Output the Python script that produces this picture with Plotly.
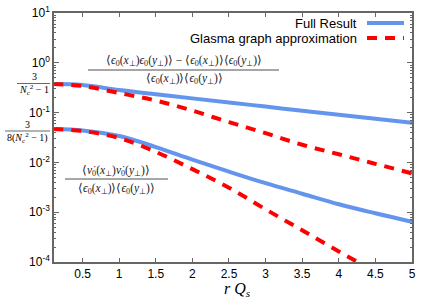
import plotly.graph_objects as go

# ---- data ----
r_qs = [0.1, 0.5, 1.0, 1.5, 2.0, 2.5, 3.0, 3.5, 4.0, 4.5, 5.0]
full_eps = [0.375, 0.358, 0.284, 0.2335, 0.193, 0.1596, 0.132, 0.1086, 0.0902, 0.0752, 0.0628]
glasma_eps = [0.375, 0.342, 0.247, 0.1744, 0.1096, 0.0643, 0.0386, 0.0226, 0.01455, 0.00936, 0.00602]
full_nu = [0.0469, 0.0438, 0.0339, 0.02034, 0.01138, 0.00652, 0.00382, 0.00235, 0.001443, 0.00095, 0.00064]
glasma_nu = [0.0469, 0.0427, 0.0309, 0.01627, 0.00733, 0.0031, 0.001144, 0.000432, 0.000163, 6.28e-5, 2.35e-5]

y_tickvals = [10, 1, 0.1, 0.01, 0.001, 0.0001]
y_ticktext = ["10<sup>1</sup>", "10<sup>0</sup>", "10<sup>-1</sup>", "10<sup>-2</sup>", "10<sup>-3</sup>", "10<sup>-4</sup>"]
x_tickvals = [0.5, 1, 1.5, 2, 2.5, 3, 3.5, 4, 4.5, 5]
x_ticktext = ["0.5", "1", "1.5", "2", "2.5", "3", "3.5", "4", "4.5", "5"]

BLUE = "#6495ED"
RED = "#FF0000"
W, H = 424, 303
L, R, T, B = 54, 12, 13, 41
PW, PH = W - L - R, H - T - B


def px(x):
    return (x - L) / PW


def py(y):
    return (H - B - y) / PH


fig = go.Figure()
for ys, col, dash in [(full_eps, BLUE, "solid"), (glasma_eps, RED, "10px,8px"),
                      (full_nu, BLUE, "solid"), (glasma_nu, RED, "10px,8px")]:
    fig.add_trace(go.Scatter(x=r_qs, y=ys, mode="lines", showlegend=False, hoverinfo="skip",
                             line=dict(color=col, width=4, dash=dash, shape="spline")))

minor_vals = [m * 10.0 ** k for k in range(-4, 1) for m in range(2, 10)]

axis_common = dict(showline=True, linecolor="#666", linewidth=1.5, mirror="allticks",
                   ticks="inside", tickcolor="#666", showgrid=False, zeroline=False,
                   automargin=False,
                   tickfont=dict(family="Liberation Sans", size=12, color="black"))
fig.update_xaxes(range=[0.11, 5], tickmode="array", tickvals=x_tickvals, ticktext=x_ticktext,
                 ticklen=4, **axis_common)
fig.update_yaxes(type="log", range=[-4, 1], tickmode="array", tickvals=y_tickvals,
                 ticktext=y_ticktext, ticklen=5,
                 minor=dict(tickvals=minor_vals, ticks="inside", ticklen=2, tickcolor="#666"),
                 **axis_common)

ann = []
shapes = []
SERIF = "Liberation Serif"
GRAY = "#222"


def text(x, y, s, size=10, fam=SERIF, col=GRAY, xanchor="center"):
    ann.append(dict(x=px(x), y=py(y), xref="paper", yref="paper", text=s, showarrow=False,
                    xanchor=xanchor, yanchor="middle", font=dict(family=fam, size=size, color=col)))


def hline(x0, x1, y, col=GRAY, width=0.8, dash="solid"):
    shapes.append(dict(type="line", xref="paper", yref="paper", x0=px(x0), x1=px(x1),
                       y0=py(y), y1=py(y), line=dict(color=col, width=width, dash=dash)))


eps = "<i>ϵ</i><sub>0</sub>"
xp = "(<i>x</i><sub>⊥</sub>)"
yp = "(<i>y</i><sub>⊥</sub>)"
nud = "<i>ν̇</i><sub>0</sub>"

# upper formula
text(184, 61, f"⟨{eps}{xp}{eps}{yp}⟩ − ⟨{eps}{xp}⟩⟨{eps}{yp}⟩", size=11.5)
hline(88, 279, 70)
text(184, 79, f"⟨{eps}{xp}⟩⟨{eps}{yp}⟩", size=11.5)

# lower formula
text(116, 171, f"⟨{nud}{xp}{nud}{yp}⟩", size=11.5)
hline(65, 168, 179)
text(116, 189, f"⟨{eps}{xp}⟩⟨{eps}{yp}⟩", size=11.5)

# custom y labels
text(34, 76, "3", size=10, col="black")
hline(17, 50, 83.5, col="black", width=0.6)
text(34, 90, "<i>N</i><sub>c</sub><sup>2</sup> − 1", size=10, col="black")
text(28, 124, "3", size=10, col="black")
hline(5, 50, 131, col="black", width=0.6)
text(28, 138, "8(<i>N</i><sub>c</sub><sup>2</sup> − 1)", size=10, col="black")

# legend (manual)
text(359, 23, "Full Result", size=13, fam="Liberation Sans", col="black", xanchor="right")
text(359, 38, "Glasma graph approximation", size=13, fam="Liberation Sans", col="black", xanchor="right")
hline(367, 404, 23, col=BLUE, width=4)
hline(367, 404, 38, col=RED, width=4, dash="10px,8px")

# axis title
text(237, 289, "<i>r Q</i><sub><i>s</i></sub>", size=16, col="black")

fig.update_layout(width=W, height=H, margin=dict(l=L, r=R, t=T, b=B),
                  paper_bgcolor="white", plot_bgcolor="white",
                  annotations=ann, shapes=shapes)
fig.write_html("out.html", config={"displayModeBar": False},
               post_script="document.body.style.margin='0px';")
